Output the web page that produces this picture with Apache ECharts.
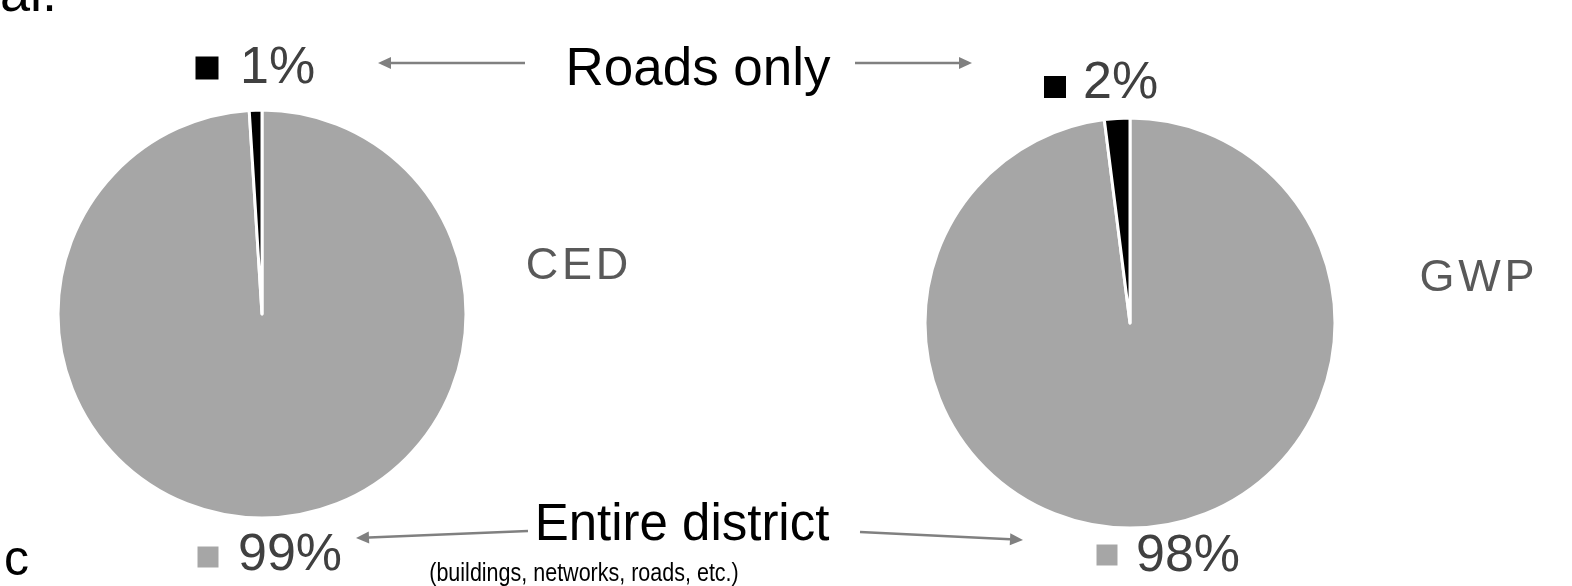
<!DOCTYPE html>
<html>
<head>
<meta charset="utf-8">
<script src="https://cdn.jsdelivr.net/npm/echarts@6/dist/echarts.min.js"></script>
<style>
  html, body { margin: 0; padding: 0; background: #fff; }
  #main { width: 1572px; height: 586px; }
</style>
</head>
<body>
<div id="main"></div>
<script>
// 数据
const categories = ["Entire district", "Roads only"];
const cedValues = [99, 1];
const gwpValues = [98, 2];
const pieTitles = ["CED", "GWP"];
const sliceColors = ["#a6a6a6", "#000000"];

const FONT = "Liberation Sans, Arial, sans-serif";

let chart = echarts.init(document.getElementById("main"));

function pieSeries(name, values, center, r) {
  return {
    name: name,
    type: "pie",
    center: center,
    radius: r,
    startAngle: 90,
    clockwise: true,
    animation: false,
    silent: true,
    label: { show: false },
    labelLine: { show: false },
    itemStyle: { borderColor: "#fff", borderWidth: 3 },
    data: values.map(function (v, i) {
      return { name: categories[i], value: v, itemStyle: { color: sliceColors[i] } };
    }),
  };
}

// 箭头
function arrow(x1, y1, x2, y2) {
  let ang = Math.atan2(y2 - y1, x2 - x1);
  let len = 13, half = 6;
  let bx = x2 - Math.cos(ang) * len, by = y2 - Math.sin(ang) * len;
  let nx = -Math.sin(ang) * half, ny = Math.cos(ang) * half;
  return {
    type: "group",
    children: [
      { type: "line", shape: { x1: x1, y1: y1, x2: bx, y2: by }, style: { stroke: "#808080", lineWidth: 2.5 } },
      { type: "polygon", shape: { points: [[x2, y2], [bx + nx, by + ny], [bx - nx, by - ny]] }, style: { fill: "#808080" } },
    ],
  };
}

function txt(text, x, y, size, color, align, sx) {
  return {
    type: "text",
    x: x,
    y: y,
    scaleX: sx || 1,
    style: {
      text: text,
      font: size + "px " + FONT,
      fill: color,
      textAlign: align || "left",
      textVerticalAlign: "middle",
    },
  };
}

function sq(cx, cy, size, color) {
  return {
    type: "rect",
    shape: { x: cx - size / 2, y: cy - size / 2, width: size, height: size },
    style: { fill: color },
  };
}

// 字母间距（细空格）
function spaced(s) {
  return s.split("").join("\u200A");
}

let graphic = [
  // 截断的文字
  txt("al.", 0, -4, 54, "#000"),
  txt("c", 4, 561, 50, "#000"),
  // 左饼图标签
  sq(207, 68, 23, sliceColors[1]),
  txt(cedValues[1] + "%", 240, 69, 52, "#404040"),
  sq(208, 557, 21, sliceColors[0]),
  txt(cedValues[0] + "%", 238, 556, 52, "#404040"),
  txt(spaced(pieTitles[0]), 577, 267, 45, "#595959", "center"),
  // 右饼图标签
  sq(1055, 87, 22, sliceColors[1]),
  txt(gwpValues[1] + "%", 1083, 84, 52, "#404040"),
  sq(1107, 555, 21, sliceColors[0]),
  txt(gwpValues[0] + "%", 1136, 557, 52, "#404040"),
  txt(spaced(pieTitles[1]), 1477, 279, 45, "#595959", "center"),
  // 中间说明
  txt(categories[1], 698, 70, 53, "#000", "center"),
  txt(categories[0], 682, 526, 51, "#000", "center"),
  txt("(buildings, networks, roads, etc.)", 584, 574, 25, "#000", "center", 0.86),
  arrow(525, 63, 378, 63),
  arrow(855, 63, 972, 63),
  arrow(528, 531, 356, 538),
  arrow(860, 532, 1023, 540),
];

chart.setOption({
  backgroundColor: "#fff",
  animation: false,
  series: [
    pieSeries(pieTitles[0], cedValues, [262, 314], 204),
    pieSeries(pieTitles[1], gwpValues, [1130, 323], 205),
  ],
  graphic: graphic,
});
</script>
</body>
</html>
